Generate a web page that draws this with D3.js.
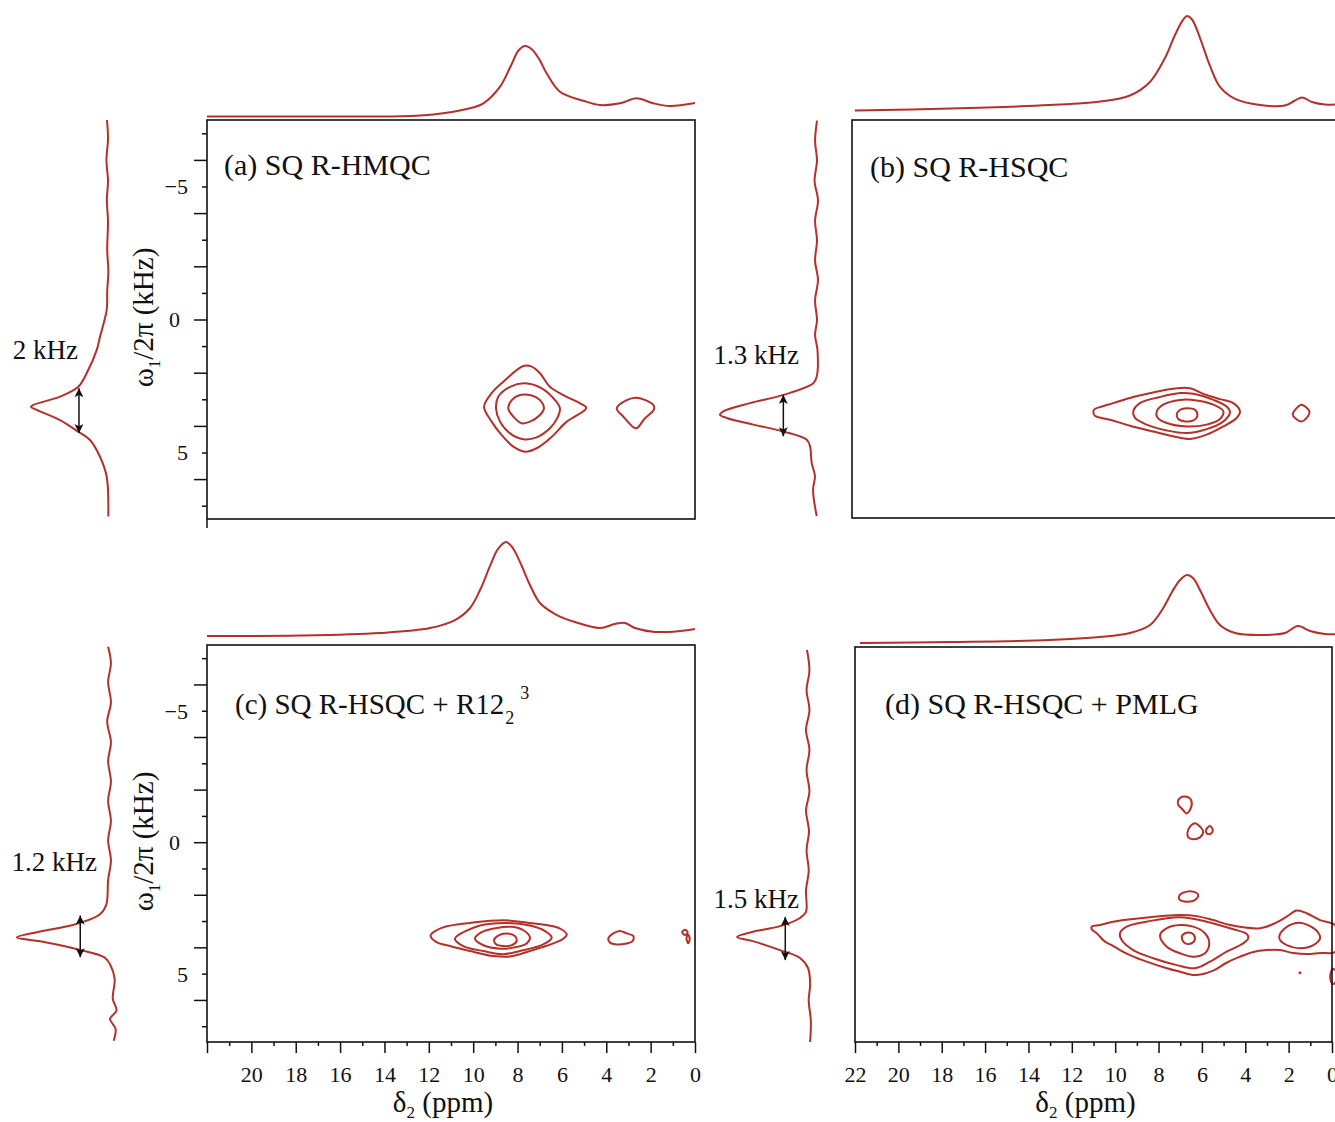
<!DOCTYPE html>
<html>
<head>
<meta charset="utf-8">
<script src="https://cdn.jsdelivr.net/npm/d3@7"></script>
<style>
  body { margin: 0; background: #fff; }
  text { font-family: "Liberation Serif", "Times New Roman", serif; fill: #111; }
</style>
</head>
<body>
<svg id="fig" width="1335" height="1122"></svg>
<script>
// ---- tick values / labels
const ppmTicks = d3.range(0, 23);
const ppmLabelsC = [20, 18, 16, 14, 12, 10, 8, 6, 4, 2, 0];
const ppmLabelsD = [22, 20, 18, 16, 14, 12, 10, 8, 6, 4, 2, 0];
const khzTicks = d3.range(-7, 8);
const khzLabels = [-5, 0, 5];

// ---- top (F2) projections: [ppm, relative intensity]
const topA = [[22,0],[17.8,0],[13.3,0.003],[11.8,0.028],[10.29,0.106],[9.54,0.187],[8.79,0.423],[8.3,0.72],
  [7.95,0.94],[7.66,1],[7.35,0.95],[7.0,0.8],[6.69,0.613],[6.09,0.352],[5.04,0.224],[4.28,0.163],[3.38,0.187],
  [2.63,0.258],[1.88,0.187],[1.13,0.149],[0,0.191]];
const topB = [[21.87,0],[17.58,0.021],[13.07,0.058],[10.82,0.095],[9.47,0.159],[8.57,0.302],[7.89,0.556],
  [7.44,0.799],[7.08,0.958],[6.9,1],[6.67,0.963],[6.31,0.767],[5.86,0.471],[5.41,0.249],[4.73,0.122],
  [3.61,0.058],[2.48,0.053],[2.03,0.106],[1.71,0.138],[1.26,0.09],[0.68,0.063],[0,0.069]];
const topC = [[22,0],[17.81,0.005],[14.2,0.032],[11.95,0.085],[10.82,0.17],[10.14,0.298],[9.69,0.489],
  [9.24,0.745],[8.88,0.926],[8.52,1],[8.25,0.947],[7.89,0.787],[7.44,0.543],[6.99,0.351],[6.31,0.234],
  [5.41,0.149],[4.28,0.085],[3.61,0.128],[3.16,0.138],[2.71,0.085],[1.8,0.043],[0.68,0.053],[0,0.074]];
const topD = [[21.77,0],[17.62,0.015],[13.01,0.044],[10.7,0.088],[9.32,0.147],[8.39,0.265],[7.84,0.485],
  [7.38,0.75],[7.01,0.926],[6.69,1],[6.41,0.956],[6.09,0.779],[5.63,0.485],[5.17,0.265],[4.47,0.147],
  [3.32,0.118],[2.17,0.147],[1.57,0.25],[1.01,0.176],[0.32,0.132],[-0.37,0.132]];

// ---- side (F1) projections: [kHz, relative intensity]
const sideA = [[-7.5,0.013],[-6.8,0.0],[-6.0,0.02],[-5.2,0.0],[-4.5,0.015],[-3.7,0.0],[-2.6,0.01],[-1.8,-0.005],
  [-1.1,0.01],[-0.36,0.017],[0.65,0.104],[1.15,0.147],[2.02,0.277],[2.53,0.386],[2.9,0.623],[3.21,0.97],
  [3.28,1],[3.4,0.926],[3.78,0.623],[4.22,0.386],[4.53,0.234],[5.16,0.104],[5.91,0.017],[7.41,-0.004]];
const sideB = [[-7.48,0],[-6.7,0.02],[-5.98,0.0],[-5.2,0.025],[-4.47,-0.01],[-3.7,0.02],[-2.97,0.0],
  [-2.2,0.02],[-1.47,-0.01],[-0.7,0.02],[0.04,0.0],[0.6,0.02],[1.17,-0.005],[2.17,0.003],[2.42,0.038],
  [2.86,0.347],[3.17,0.691],[3.48,0.966],[3.61,1],[3.73,0.931],[3.98,0.657],[4.24,0.347],[4.55,0.106],
  [4.8,0.072],[5.42,0.055],[5.93,0.021],[6.43,0.041],[7.43,0.003]];
const sideC = [[-7.43,0.02],[-6.8,-0.01],[-6.11,0.02],[-5.3,-0.01],[-4.6,0.03],[-3.8,-0.01],[-3.09,0.02],
  [-2.3,-0.01],[-1.58,0.02],[-0.8,-0.01],[-0.08,0.02],[0.7,-0.01],[1.43,0.02],[2.38,0.04],[2.75,0.11],
  [3.13,0.38],[3.4,0.75],[3.62,1],[3.77,0.75],[4.08,0.34],[4.38,0.06],[4.64,0],[5.2,-0.05],[5.96,-0.03],
  [6.4,-0.07],[6.72,0],[7.1,-0.06],[7.55,-0.04]];
const sideD = [[-7.39,0.014],[-6.6,-0.02],[-5.87,0.02],[-5.1,-0.02],[-4.35,0.028],[-3.6,-0.02],[-2.83,0.02],
  [-2.0,-0.02],[-1.31,0.028],[-0.5,-0.014],[0.21,0.02],[1.0,-0.01],[1.73,0.028],[2.56,0.028],[2.79,0.113],
  [3.1,0.394],[3.32,0.789],[3.51,1],[3.66,0.789],[4.01,0.394],[4.31,0.113],[4.69,0],[5.3,-0.03],
  [5.91,-0.01],[6.7,-0.04],[7.5,-0.03]];

// ---- arrows across the F1 line width: [kHz from, kHz to, relative intensity]
const arrowA = [2.58, 4.27, 0.377];
const arrowB = [2.86, 4.42, 0.347];
const arrowC = [2.79, 4.38, 0.32];
const arrowD = [2.75, 4.39, 0.32];
const widthLabels = ["2 kHz", "1.3 kHz", "1.2 kHz", "1.5 kHz"];

// ---- contour rings: [ppm, kHz]
const contoursA = [
  [[7.74,1.75],[8.64,2.34],[9.17,2.77],[9.51,3.28],[9.17,3.84],[8.72,4.34],[8.19,4.78],[7.66,4.97],[7.14,4.84],
   [6.46,4.41],[5.78,3.84],[4.96,3.40],[4.91,3.30],[5.18,3.15],[5.94,2.84],[6.54,2.53],[6.99,2.02],[7.36,1.77]],
  [[7.66,2.40],[8.34,2.53],[8.87,2.90],[8.97,3.34],[8.79,3.84],[8.34,4.28],[7.74,4.50],[7.14,4.43],[6.54,4.09],
   [6.21,3.71],[6.09,3.34],[6.31,3.03],[6.91,2.59]],
  [[7.89,2.84],[8.26,3.03],[8.42,3.34],[8.19,3.65],[7.81,3.90],[7.44,3.84],[6.99,3.59],[6.81,3.34],[6.99,3.03],[7.36,2.86]],
  [[3.53,3.34],[3.08,3.03],[2.63,2.94],[1.88,3.21],[1.85,3.38],[2.25,3.71],[2.63,4.09],[2.78,4.05],[3.23,3.65]]
];
const contoursB = [
  [[11.12,3.48],[11.05,3.39],[10.82,3.32],[10.22,3.17],[9.32,2.94],[8.42,2.77],[7.36,2.61],[6.76,2.61],[6.16,2.82],
   [5.41,3.02],[4.81,3.17],[4.51,3.48],[4.66,3.73],[5.26,4.05],[6.01,4.36],[6.76,4.52],[7.52,4.42],[8.42,4.24],
   [9.47,4.02],[10.37,3.80],[11.05,3.65]],
  [[9.32,3.48],[9.02,3.17],[8.12,2.94],[7.21,2.79],[6.61,2.82],[5.71,3.05],[5.11,3.30],[4.96,3.52],[5.26,3.86],
   [6.01,4.15],[6.91,4.30],[7.81,4.20],[8.72,3.98],[9.24,3.73]],
  [[8.26,3.48],[7.97,3.23],[7.21,3.05],[6.46,3.07],[5.71,3.23],[5.26,3.48],[5.41,3.77],[6.01,3.98],[6.91,4.05],
   [7.81,3.92],[8.24,3.70]],
  [[7.36,3.61],[7.21,3.42],[6.91,3.36],[6.54,3.42],[6.43,3.65],[6.61,3.82],[6.99,3.86],[7.29,3.77]],
  [[2.13,3.61],[1.88,3.30],[1.73,3.23],[1.38,3.48],[1.50,3.73],[1.73,3.86],[2.03,3.73]]
];
const contoursC = [
  [[11.92,3.55],[11.65,3.35],[11.19,3.20],[10.14,3.07],[8.64,2.97],[7.44,3.07],[6.39,3.20],[6.01,3.32],[5.78,3.51],
   [5.94,3.67],[6.39,3.85],[7.44,4.14],[8.34,4.35],[9.09,4.33],[10.14,4.14],[11.05,3.95],[11.65,3.80]],
  [[10.82,3.67],[9.69,3.17],[8.49,3.07],[7.44,3.17],[6.76,3.38],[6.46,3.63],[6.84,3.89],[7.89,4.14],[8.64,4.26],
   [9.54,4.14],[10.45,3.95]],
  [[9.92,3.67],[9.62,3.42],[8.94,3.26],[8.26,3.22],[7.74,3.35],[7.44,3.63],[7.59,3.85],[8.19,4.01],[8.79,4.05],[9.54,3.92]],
  [[9.06,3.72],[8.87,3.55],[8.49,3.47],[8.12,3.57],[8.04,3.76],[8.26,3.92],[8.64,3.95],[8.97,3.88]],
  [[3.91,3.67],[3.68,3.47],[3.38,3.38],[3.08,3.47],[2.78,3.57],[2.81,3.76],[3.08,3.85],[3.53,3.89],[3.83,3.82]],
  [[0.58,3.43],[0.45,3.33],[0.33,3.43],[0.45,3.53]],
  [[0.38,3.62],[0.30,3.52],[0.24,3.68],[0.30,3.84],[0.36,3.76]]
];
const contoursD = [
  [[11.08,3.12],[10.70,3.06],[10.09,2.93],[8.86,2.80],[7.01,2.68],[6.24,2.72],[5.48,2.87],[4.70,3.06],[3.32,3.18],
   [2.71,3.02],[2.09,2.74],[1.63,2.51],[1.17,2.61],[0.55,2.87],[-0.14,3.06],[-0.3,3.6],[-0.14,4.08],[0.55,4.12],
   [1.17,4.16],[1.79,4.12],[2.40,4.01],[3.01,4.01],[3.63,4.08],[4.24,4.26],[4.86,4.49],[5.48,4.79],[6.32,4.96],
   [7.01,4.83],[7.62,4.70],[8.55,4.45],[9.32,4.20],[9.78,4.01],[10.16,3.82],[10.47,3.69],[10.85,3.37],[11.08,3.22]],
  [[9.78,3.37],[9.47,3.12],[8.55,2.93],[7.01,2.76],[5.78,2.93],[4.55,3.22],[3.93,3.40],[3.86,3.56],[4.09,3.75],
   [4.86,4.07],[5.63,4.45],[6.32,4.70],[7.16,4.58],[8.24,4.32],[9.17,4.01],[9.70,3.63]],
  [[7.93,3.44],[7.62,3.18],[7.01,3.06],[6.40,3.12],[5.86,3.37],[5.66,3.75],[5.86,4.13],[6.40,4.26],[7.01,4.13],[7.62,3.88]],
  [[6.93,3.52],[6.78,3.37],[6.47,3.37],[6.32,3.56],[6.47,3.75],[6.78,3.75]],
  [[2.43,3.48],[2.17,3.18],[1.55,2.97],[1.01,3.10],[0.63,3.35],[0.55,3.56],[0.86,3.82],[1.48,3.94],[2.09,3.82],[2.40,3.63]],
  [[7.09,-1.69],[6.86,-1.82],[6.55,-1.75],[6.47,-1.50],[6.70,-1.18],[6.93,-1.37],[7.09,-1.50]],
  [[6.67,-0.43],[6.55,-0.68],[6.32,-0.81],[6.09,-0.68],[5.94,-0.49],[6.09,-0.27],[6.40,-0.20],[6.63,-0.27]],
  [[5.81,-0.55],[5.63,-0.70],[5.50,-0.55],[5.60,-0.40],[5.78,-0.43]],
  [[7.06,1.98],[6.86,1.83],[6.40,1.79],[6.17,1.92],[6.32,2.11],[6.70,2.17],[7.01,2.11]],
  [[0.05,4.85],[-0.05,4.72],[-0.3,5.0],[-0.05,5.3],[0.05,5.2]]
];
const dotsD = [[1.48, 4.87]];

// ---- drawing
const svg = d3.select("#fig");
const RED = "#b3302b";
const fmt = d => d3.format("")(d);

const panels = [
  { box: {x0: 207, x1: 695, y0: 120, y1: 519}, xDomain: [22, 0], yDomain: [-7.5, 7.5],
    top: {base: 116.5, peak: 46}, side: {base: 108, peak: 31}, topData: topA, sideData: sideA,
    contours: contoursA, dots: [], arrow: arrowA, widthLabel: widthLabels[0], widthPos: [78, 359],
    label: ["(a) SQ R-HMQC"], labelPos: [224, 175], labelSize: 30, yAxis: true, xLabels: null, cornerTick: true },
  { box: {x0: 852, x1: 1340, y0: 120, y1: 518}, xDomain: [22, 0], yDomain: [-7.5, 7.5],
    top: {base: 110.5, peak: 16}, side: {base: 817, peak: 720}, topData: topB, sideData: sideB,
    contours: contoursB, dots: [], arrow: arrowB, widthLabel: widthLabels[1], widthPos: [799, 364],
    label: ["(b) SQ R-HSQC"], labelPos: [870, 177], labelSize: 30, yAxis: false, xLabels: null },
  { box: {x0: 207, x1: 695, y0: 645, y1: 1042}, xDomain: [22, 0], yDomain: [-7.5, 7.6],
    top: {base: 636, peak: 542}, side: {base: 110, peak: 17}, topData: topC, sideData: sideC,
    contours: contoursC, dots: [], arrow: arrowC, widthLabel: widthLabels[2], widthPos: [97, 871],
    label: ["(c) SQ R-HSQC + R12", "2", "3"], labelPos: [235, 714], labelSize: 29, yAxis: true, xLabels: ppmLabelsC },
  { box: {x0: 855, x1: 1332, y0: 647, y1: 1042}, xDomain: [22, 0], yDomain: [-7.5, 7.5],
    top: {base: 643, peak: 575}, side: {base: 808, peak: 737}, topData: topD, sideData: sideD,
    contours: contoursD, dots: dotsD, arrow: arrowD, widthLabel: widthLabels[3], widthPos: [799, 908],
    label: ["(d) SQ R-HSQC + PMLG"], labelPos: [885, 714], labelSize: 30, yAxis: false, xLabels: ppmLabelsD }
];

const defs = svg.append("defs");
defs.append("marker")
    .attr("id", "head")
    .attr("viewBox", "0 0 10 10")
    .attr("refX", 10)
    .attr("refY", 5)
    .attr("markerWidth", 6)
    .attr("markerHeight", 6)
    .attr("markerUnits", "strokeWidth")
    .attr("orient", "auto-start-reverse")
  .append("path")
    .attr("d", "M0,0 L10,5 L0,10 L2.5,5 z")
    .attr("fill", "#111");

function drawPanel(p) {
  const x = d3.scaleLinear().domain(p.xDomain).range([p.box.x0, p.box.x1]);
  const y = d3.scaleLinear().domain(p.yDomain).range([p.box.y0, p.box.y1]);
  const g = svg.append("g");

  // contours
  const ring = d3.line()
      .x(d => x(d[0]))
      .y(d => y(d[1]))
      .curve(d3.curveCatmullRomClosed.alpha(0.5));

  g.selectAll(".contour")
    .data(p.contours)
    .join("path")
      .attr("class", "contour")
      .attr("d", ring)
      .attr("fill", "none")
      .attr("stroke", RED)
      .attr("stroke-width", 2);

  g.selectAll(".dot")
    .data(p.dots)
    .join("circle")
      .attr("class", "dot")
      .attr("cx", d => x(d[0]))
      .attr("cy", d => y(d[1]))
      .attr("r", 1.5)
      .attr("fill", RED);

  // frame
  g.append("rect")
      .attr("x", p.box.x0)
      .attr("y", p.box.y0)
      .attr("width", p.box.x1 - p.box.x0)
      .attr("height", p.box.y1 - p.box.y0)
      .attr("fill", "none")
      .attr("stroke", "#111")
      .attr("stroke-width", 1.6);

  // top projection
  const ty = d3.scaleLinear().domain([0, 1]).range([p.top.base, p.top.peak]);
  g.append("path")
      .datum(p.topData)
      .attr("d", d3.line().x(d => x(d[0])).y(d => ty(d[1])).curve(d3.curveCatmullRom.alpha(0.5)))
      .attr("fill", "none")
      .attr("stroke", RED)
      .attr("stroke-width", 2);

  // side projection
  const sx = d3.scaleLinear().domain([0, 1]).range([p.side.base, p.side.peak]);
  g.append("path")
      .datum(p.sideData)
      .attr("d", d3.line().x(d => sx(d[1])).y(d => y(d[0])).curve(d3.curveCatmullRom.alpha(0.5)))
      .attr("fill", "none")
      .attr("stroke", RED)
      .attr("stroke-width", 2);

  // width arrow + label
  g.append("line")
      .attr("x1", sx(p.arrow[2]))
      .attr("x2", sx(p.arrow[2]))
      .attr("y1", y(p.arrow[0]))
      .attr("y2", y(p.arrow[1]))
      .attr("stroke", "#111")
      .attr("stroke-width", 1.5)
      .attr("marker-start", "url(#head)")
      .attr("marker-end", "url(#head)");

  g.append("text")
      .attr("x", p.widthPos[0])
      .attr("y", p.widthPos[1])
      .attr("text-anchor", "end")
      .style("font-size", "27px")
      .text(p.widthLabel);

  // panel label (R12 with stacked sub/superscript for panel c)
  const lab = g.append("text")
      .attr("x", p.labelPos[0])
      .attr("y", p.labelPos[1])
      .style("font-size", p.labelSize + "px")
      .text(p.label[0]);
  if (p.label.length > 1) {
    const w = lab.node().getComputedTextLength();
    g.append("text")
        .attr("x", p.labelPos[0] + w + 1)
        .attr("y", p.labelPos[1] + 10)
        .style("font-size", "18px")
        .text(p.label[1]);
    g.append("text")
        .attr("x", p.labelPos[0] + w + 16)
        .attr("y", p.labelPos[1] - 15)
        .style("font-size", "18px")
        .text(p.label[2]);
  }

  // F1 axis
  if (p.yAxis) {
    const ax = g.append("g")
        .attr("transform", `translate(${p.box.x0},0)`)
        .call(d3.axisLeft(y)
          .tickValues(khzTicks)
          .tickFormat(d => khzLabels.includes(d) ? fmt(d) : ""));
    ax.select(".domain").remove();
    ax.selectAll(".tick").each(function(d) {
      const len = d % 2 ? 5 : 13;
      const t = d3.select(this);
      t.select("line").attr("x2", -len).attr("stroke", "#111").attr("stroke-width", 1.5);
      t.select("text").attr("x", -(len + 14)).attr("dy", "0.34em")
        .attr("fill", "#111").style("font-size", "22px")
        .style("font-family", "'Liberation Serif', serif");
    });

    const cy = (p.box.y0 + p.box.y1) / 2 - 2;
    const yt = g.append("text")
        .attr("transform", `translate(153,${cy}) rotate(-90)`)
        .attr("text-anchor", "middle")
        .style("font-size", "29px");
    yt.append("tspan").text("ω");
    yt.append("tspan").attr("dy", 7).style("font-size", "17px").text("1");
    yt.append("tspan").attr("dy", -7).text("/2π (kHz)");
  }

  if (p.cornerTick) {
    g.append("line")
        .attr("x1", p.box.x0).attr("x2", p.box.x0)
        .attr("y1", p.box.y1).attr("y2", p.box.y1 + 9)
        .attr("stroke", "#111").attr("stroke-width", 1.5);
  }

  // F2 axis
  if (p.xLabels) {
    const ax = g.append("g")
        .attr("transform", `translate(0,${p.box.y1})`)
        .call(d3.axisBottom(x)
          .tickValues(ppmTicks)
          .tickFormat(d => p.xLabels.includes(d) ? fmt(d) : ""));
    ax.select(".domain").remove();
    ax.selectAll(".tick").each(function(d) {
      const len = d % 2 ? 4 : 11;
      const t = d3.select(this);
      t.select("line").attr("y2", len).attr("stroke", "#111").attr("stroke-width", 1.5);
      t.select("text").attr("y", 40).attr("dy", 0)
        .attr("fill", "#111").style("font-size", "22px")
        .style("font-family", "'Liberation Serif', serif");
    });

    const cx = (p.box.x0 + p.box.x1) / 2 - 8;
    const xt = g.append("text")
        .attr("x", cx)
        .attr("y", p.box.y1 + 70)
        .attr("text-anchor", "middle")
        .style("font-size", "29px");
    xt.append("tspan").text("δ");
    xt.append("tspan").attr("dy", 6).style("font-size", "17px").text("2");
    xt.append("tspan").attr("dy", -6).text(" (ppm)");
  }
}

panels.forEach(drawPanel);
</script>
</body>
</html>
